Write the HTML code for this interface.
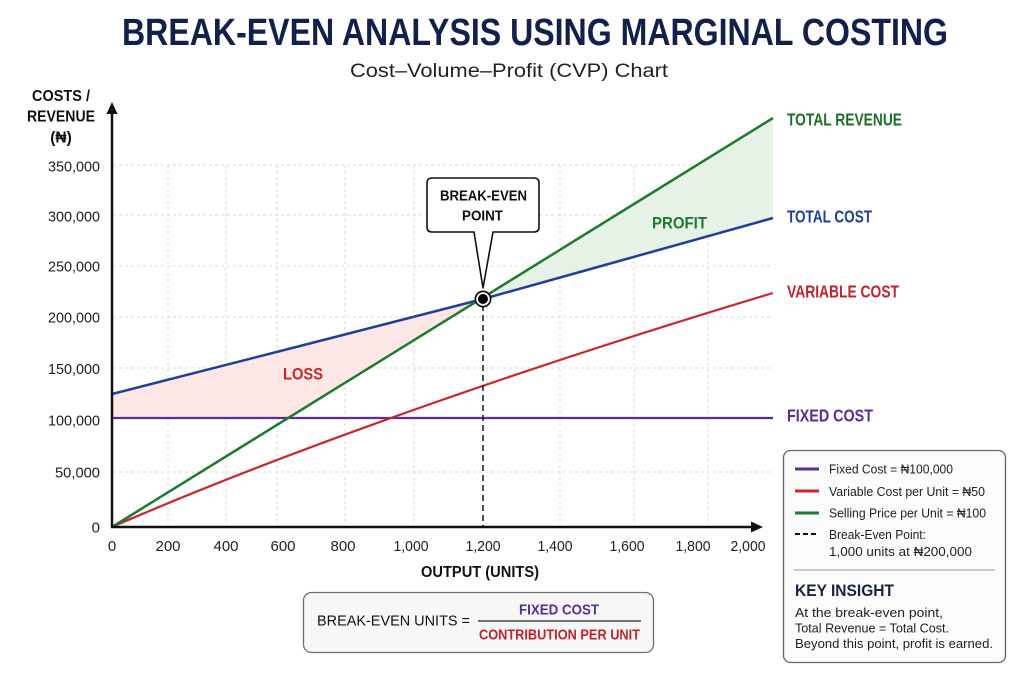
<!DOCTYPE html>
<html><head><meta charset="utf-8"><style>
html,body{margin:0;padding:0;background:#fff;}
svg{display:block;}
text{font-family:"Liberation Sans","DejaVu Sans",sans-serif;}
.c{font-family:"Liberation Sans Narrow","Liberation Sans","DejaVu Sans",sans-serif;font-weight:bold;}
</style></head><body>
<svg width="1024" height="683" viewBox="0 0 1024 683" xmlns="http://www.w3.org/2000/svg">
<rect width="1024" height="683" fill="#ffffff"/>
<!-- Title -->
<text x="122" y="45" class="c" font-size="38" fill="#13204a" textLength="826" lengthAdjust="spacingAndGlyphs">BREAK-EVEN ANALYSIS USING MARGINAL COSTING</text>
<text x="350" y="77" font-size="19" fill="#222" textLength="318" lengthAdjust="spacingAndGlyphs">Cost–Volume–Profit (CVP) Chart</text>

<!-- grid -->
<g stroke="#d8d8d8" stroke-width="1" stroke-dasharray="3,3">
<line x1="113" y1="165" x2="773" y2="165"/>
<line x1="113" y1="215" x2="773" y2="215"/>
<line x1="113" y1="266" x2="773" y2="266"/>
<line x1="113" y1="317" x2="773" y2="317"/>
<line x1="113" y1="368" x2="773" y2="368"/>
<line x1="113" y1="472" x2="773" y2="472"/>
<line x1="168" y1="165" x2="168" y2="526"/>
<line x1="226" y1="165" x2="226" y2="526"/>
<line x1="277" y1="165" x2="277" y2="526"/>
<line x1="345" y1="165" x2="345" y2="526"/>
<line x1="414" y1="165" x2="414" y2="526"/>
<line x1="560" y1="165" x2="560" y2="526"/>
<line x1="634" y1="165" x2="634" y2="526"/>
<line x1="708" y1="165" x2="708" y2="526"/>
</g>

<!-- fills -->
<polygon points="112,394 483,299 290,418 112,418" fill="#fde6e6"/>
<polygon points="483,299 773,118 773,218" fill="#e6f2e6"/>

<!-- series -->
<line x1="112" y1="418" x2="773" y2="418" stroke="#5b2c9a" stroke-width="2.2"/>
<path d="M112,527 C300,445 550,360 773,293" fill="none" stroke="#c8262c" stroke-width="2.2"/>
<polyline points="112,394 300,346 483,299 630,258 773,218" fill="none" stroke="#1f3f9a" stroke-width="2.5" stroke-linejoin="round"/>
<line x1="112" y1="527" x2="773" y2="118" stroke="#1e7a2e" stroke-width="2.5"/>

<!-- dashed break-even -->
<line x1="483" y1="305" x2="483" y2="527" stroke="#222" stroke-width="1.6" stroke-dasharray="6,4"/>

<!-- axes -->
<line x1="112" y1="527" x2="112" y2="112" stroke="#111" stroke-width="2.5"/>
<polygon points="112,102 106.5,114 117.5,114" fill="#111"/>
<line x1="111" y1="527" x2="752" y2="527" stroke="#111" stroke-width="2.5"/>
<polygon points="763,527 751,521.5 751,532.5" fill="#111"/>

<!-- break-even marker -->
<circle cx="483" cy="299" r="8.5" fill="#111"/>
<circle cx="483" cy="299" r="6.8" fill="#fff"/>
<circle cx="483" cy="299" r="5" fill="#000"/>

<!-- callout -->
<path d="M432,178 H534 Q539,178 539,183 V227 Q539,232 534,232 H493 L483,288 L474,232 H432 Q427,232 427,227 V183 Q427,178 432,178 Z" fill="#fff" stroke="#111" stroke-width="1.6" stroke-linejoin="round"/>
<text x="440" y="200.5" class="c" font-size="15" fill="#111" textLength="87" lengthAdjust="spacingAndGlyphs">BREAK-EVEN</text>
<text x="462" y="220.5" class="c" font-size="15" fill="#111" textLength="41" lengthAdjust="spacingAndGlyphs">POINT</text>

<text x="652" y="228.5" class="c" font-size="17" fill="#1e7a2e" textLength="55" lengthAdjust="spacingAndGlyphs">PROFIT</text>
<text x="283" y="379.5" class="c" font-size="17" fill="#c62828" textLength="40" lengthAdjust="spacingAndGlyphs">LOSS</text>

<!-- right labels -->
<text x="787" y="125.5" class="c" font-size="17.5" fill="#1e6e2a" textLength="115" lengthAdjust="spacingAndGlyphs">TOTAL REVENUE</text>
<text x="787" y="222.5" class="c" font-size="17.5" fill="#1f3f9a" textLength="85" lengthAdjust="spacingAndGlyphs">TOTAL COST</text>
<text x="787" y="297.5" class="c" font-size="17.5" fill="#c0222a" textLength="112" lengthAdjust="spacingAndGlyphs">VARIABLE COST</text>
<text x="787" y="421.5" class="c" font-size="17.5" fill="#5b2c9a" textLength="86" lengthAdjust="spacingAndGlyphs">FIXED COST</text>

<!-- y axis title -->
<text x="32" y="101" class="c" font-size="15.5" fill="#111" textLength="58" lengthAdjust="spacingAndGlyphs">COSTS /</text>
<text x="27" y="121.5" class="c" font-size="15.5" fill="#111" textLength="68" lengthAdjust="spacingAndGlyphs">REVENUE</text>
<text x="61" y="142.5" class="c" font-size="15.5" fill="#111" text-anchor="middle">(₦)</text>

<!-- y ticks -->
<g font-size="15" fill="#222" text-anchor="end">
<text x="100" y="171.5" textLength="52" lengthAdjust="spacingAndGlyphs">350,000</text>
<text x="100" y="221.5" textLength="52" lengthAdjust="spacingAndGlyphs">300,000</text>
<text x="100" y="271.5" textLength="52" lengthAdjust="spacingAndGlyphs">250,000</text>
<text x="100" y="322.5" textLength="52" lengthAdjust="spacingAndGlyphs">200,000</text>
<text x="100" y="374" textLength="52" lengthAdjust="spacingAndGlyphs">150,000</text>
<text x="100" y="425.5" textLength="52" lengthAdjust="spacingAndGlyphs">100,000</text>
<text x="100" y="477.5" textLength="45" lengthAdjust="spacingAndGlyphs">50,000</text>
<text x="100" y="532.5">0</text>
</g>

<!-- x ticks -->
<g font-size="15" fill="#222" text-anchor="middle">
<text x="112" y="551">0</text>
<text x="168" y="551">200</text>
<text x="226" y="551">400</text>
<text x="283" y="551">600</text>
<text x="343" y="551">800</text>
<text x="411" y="551" textLength="35" lengthAdjust="spacingAndGlyphs">1,000</text>
<text x="483" y="551" textLength="35" lengthAdjust="spacingAndGlyphs">1,200</text>
<text x="555" y="551" textLength="35" lengthAdjust="spacingAndGlyphs">1,400</text>
<text x="627" y="551" textLength="35" lengthAdjust="spacingAndGlyphs">1,600</text>
<text x="693" y="551" textLength="35" lengthAdjust="spacingAndGlyphs">1,800</text>
<text x="748" y="551" textLength="35" lengthAdjust="spacingAndGlyphs">2,000</text>
</g>
<text x="421" y="577" class="c" font-size="16" fill="#111" textLength="118" lengthAdjust="spacingAndGlyphs">OUTPUT (UNITS)</text>

<!-- formula box -->
<rect x="303.5" y="592.5" width="350" height="60" rx="8" fill="#f7f7f8" stroke="#6f6f6f" stroke-width="1.3"/>
<text x="317" y="625.5" font-size="15" fill="#111" textLength="153" lengthAdjust="spacingAndGlyphs">BREAK-EVEN UNITS =</text>
<text x="519" y="614.5" class="c" font-size="15" fill="#5a2d91" textLength="80" lengthAdjust="spacingAndGlyphs">FIXED COST</text>
<line x1="478" y1="621" x2="641" y2="621" stroke="#222" stroke-width="1.3"/>
<text x="479" y="639.5" class="c" font-size="15" fill="#c0222a" textLength="161" lengthAdjust="spacingAndGlyphs">CONTRIBUTION PER UNIT</text>

<!-- legend -->
<rect x="783.5" y="450.5" width="222" height="212" rx="7" fill="#fbfbfb" stroke="#666" stroke-width="1.3"/>
<line x1="795" y1="469" x2="819" y2="469" stroke="#5b2c9a" stroke-width="3"/>
<line x1="795" y1="491" x2="819" y2="491" stroke="#c8262c" stroke-width="3"/>
<line x1="795" y1="513" x2="819" y2="513" stroke="#1e7a2e" stroke-width="3"/>
<line x1="795" y1="534" x2="819" y2="534" stroke="#111" stroke-width="2" stroke-dasharray="5,3"/>
<g font-size="13" fill="#222">
<text x="829" y="473.5" textLength="124" lengthAdjust="spacingAndGlyphs">Fixed Cost = ₦100,000</text>
<text x="829" y="496" textLength="156" lengthAdjust="spacingAndGlyphs">Variable Cost per Unit = ₦50</text>
<text x="829" y="517.5" textLength="157" lengthAdjust="spacingAndGlyphs">Selling Price per Unit = ₦100</text>
<text x="829" y="539" textLength="97" lengthAdjust="spacingAndGlyphs">Break-Even Point:</text>
<text x="829" y="556" textLength="143" lengthAdjust="spacingAndGlyphs">1,000 units at ₦200,000</text>
</g>
<line x1="794" y1="570" x2="995" y2="570" stroke="#999" stroke-width="1"/>
<text x="795" y="596" font-size="16.5" font-weight="bold" fill="#1a2340" textLength="99" lengthAdjust="spacingAndGlyphs">KEY INSIGHT</text>
<g font-size="13" fill="#222">
<text x="795" y="617" textLength="148" lengthAdjust="spacingAndGlyphs">At the break-even point,</text>
<text x="795" y="632.5" textLength="154" lengthAdjust="spacingAndGlyphs">Total Revenue = Total Cost.</text>
<text x="795" y="648" textLength="198" lengthAdjust="spacingAndGlyphs">Beyond this point, profit is earned.</text>
</g>
</svg>
</body></html>
